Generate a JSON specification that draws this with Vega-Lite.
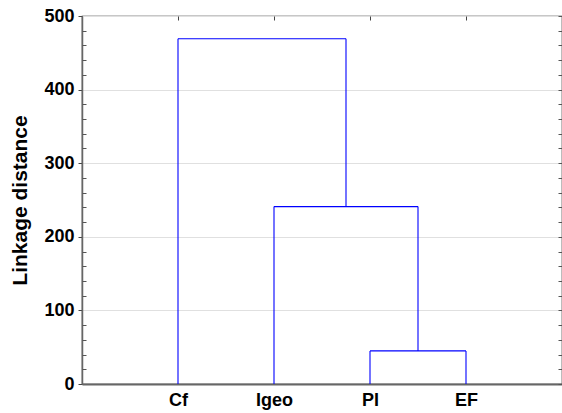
{
  "$schema": "https://vega.github.io/schema/vega-lite/v6.json",
  "width": 480,
  "height": 368,
  "autosize": "none",
  "padding": {"left": 82, "top": 16, "right": 0, "bottom": 29},
  "config": {
    "view": {"stroke": "#222222", "strokeWidth": 1.2},
    "font": "Liberation Sans"
  },
  "data": {
    "values": [
      {"x": 1, "x2": 1, "y": 0, "y2": 469},
      {"x": 2, "x2": 2, "y": 0, "y2": 241},
      {"x": 3, "x2": 3, "y": 0, "y2": 45},
      {"x": 4, "x2": 4, "y": 0, "y2": 45},
      {"x": 3, "x2": 4, "y": 45, "y2": 45},
      {"x": 3.5, "x2": 3.5, "y": 45, "y2": 241},
      {"x": 2, "x2": 3.5, "y": 241, "y2": 241},
      {"x": 2.75, "x2": 2.75, "y": 241, "y2": 469},
      {"x": 1, "x2": 2.75, "y": 469, "y2": 469}
    ]
  },
  "resolve": {"axis": {"x": "independent", "y": "independent"}},
  "layer": [
    {
      "mark": {"type": "rule", "color": "#0000ff", "strokeWidth": 1.1},
      "encoding": {
        "x": {
          "field": "x", "type": "quantitative",
          "scale": {"domain": [0, 5], "nice": false},
          "axis": {
            "orient": "bottom", "values": [1, 2, 3, 4],
            "labelExpr": "datum.value == 1 ? 'Cf' : datum.value == 2 ? 'Igeo' : datum.value == 3 ? 'PI' : 'EF'",
            "labelFont": "Liberation Sans", "labelFontWeight": "bold", "labelFontSize": 18,
            "labelColor": "#000000", "labelPadding": 7,
            "ticks": false, "grid": false, "title": null,
            "domainColor": "#666666", "domainWidth": 2
          }
        },
        "x2": {"field": "x2"},
        "y": {
          "field": "y", "type": "quantitative",
          "scale": {"domain": [0, 500], "nice": false},
          "axis": {
            "orient": "left", "values": [0, 100, 200, 300, 400, 500],
            "labelFont": "Liberation Sans", "labelFontWeight": "bold", "labelFontSize": 18,
            "labelColor": "#000000", "labelPadding": 4,
            "tickSize": 4, "tickColor": "#444444",
            "grid": true, "gridColor": "#e0e0e0", "gridWidth": 1,
            "domainColor": "#666666", "domainWidth": 1.5,
            "title": "Linkage distance",
            "titleFont": "Liberation Sans", "titleFontWeight": "bold", "titleFontSize": 21,
            "titleColor": "#000000", "titlePadding": 13
          }
        },
        "y2": {"field": "y2"}
      }
    },
    {
      "mark": {"type": "rule", "opacity": 0},
      "encoding": {
        "x": {
          "field": "x", "type": "quantitative",
          "axis": {
            "orient": "top", "values": [1, 2, 3, 4], "labels": false,
            "tickSize": -4, "tickColor": "#444444", "grid": false, "title": null,
            "domain": false
          }
        },
        "y": {
          "field": "y", "type": "quantitative",
          "axis": {
            "orient": "right",
            "values": [0, 20, 40, 60, 80, 100, 120, 140, 160, 180, 200, 220, 240, 260, 280, 300, 320, 340, 360, 380, 400, 420, 440, 460, 480, 500],
            "labels": false, "tickSize": -4, "tickColor": "#555555",
            "grid": false, "title": null, "domain": false
          }
        }
      }
    },
    {
      "mark": {"type": "rule", "opacity": 0},
      "encoding": {
        "y": {
          "field": "y", "type": "quantitative",
          "axis": {
            "orient": "left",
            "values": [20, 40, 60, 80, 120, 140, 160, 180, 220, 240, 260, 280, 320, 340, 360, 380, 420, 440, 460, 480],
            "labels": false, "tickSize": -4, "tickColor": "#555555",
            "grid": false, "title": null, "domain": false, "offset": 0
          }
        }
      }
    }
  ]
}
